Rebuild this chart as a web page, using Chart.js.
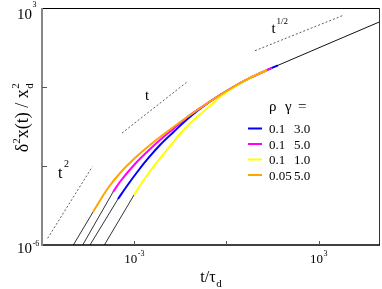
<!DOCTYPE html>
<html><head><meta charset="utf-8">
<script src="https://cdn.jsdelivr.net/npm/chart.js@4/dist/chart.umd.min.js"></script>
<style>html,body{margin:0;padding:0;background:#fff;overflow:hidden}</style>
</head><body>
<canvas id="c" width="382" height="289"></canvas>
<script>
// ---- data (t/tau_d, MSD/x_d^2) ----
const blueT = [2.97e-4,6.30e-4,1.33e-3,2.82e-3,6.92e-3,1.98e-2,5.65e-2,0.294,1.31,5.87,18.1,48.0];
const blueMSD = [5.58e-5,1.98e-4,6.46e-4,1.93e-3,6.27e-3,2.04e-2,6.37e-2,0.281,0.839,2.20,4.06,6.67];
const magentaT = [2.05e-4,3.72e-4,1.06e-3,2.61e-3,6.92e-3,2.13e-2,5.65e-2,0.294,1.31,5.87,18.1,30.5];
const magentaMSD = [1.03e-4,2.81e-4,1.19e-3,3.40e-3,9.70e-3,2.90e-2,7.59e-2,0.281,0.839,2.20,4.06,5.31];
const yellowT = [9.86e-4,1.67e-3,2.82e-3,6.92e-3,1.47e-2,3.10e-2,6.56e-2,0.139,0.341,0.904,5.87,18.1,21.0];
const yellowMSD = [7.92e-5,2.07e-4,4.97e-4,1.93e-3,5.74e-3,1.64e-2,4.11e-2,9.04e-2,0.226,0.577,2.20,4.06,4.38];
const orangeT = [4.57e-5,1.41e-4,3.72e-4,1.06e-3,3.27e-3,1.26e-2,5.65e-2,0.294,1.31,5.87,18.1,21.0];
const orangeMSD = [1.79e-5,1.46e-4,5.92e-4,2.01e-3,6.27e-3,2.13e-2,7.59e-2,0.281,0.839,2.20,4.06,4.38];

// early-time ballistic parts (black)
const blueEarlyT = [3.65e-5,2.97e-4], blueEarlyMSD = [1e-6,5.58e-5];
const magentaEarlyT = [2.11e-5,2.05e-4], magentaEarlyMSD = [1e-6,1.03e-4];
const yellowEarlyT = [1.07e-4,9.86e-4], yellowEarlyMSD = [1e-6,7.92e-5];
const orangeEarlyT = [1.045e-5,4.57e-5], orangeEarlyMSD = [1e-6,1.79e-5];

// long-time master curve (black)
const lateT = [1.26e-2,5.65e-2,0.294,1.31,5.87,18.1,48.0,1e5];
const lateMSD = [2.13e-2,7.59e-2,0.281,0.839,2.20,4.06,6.67,302];

// guide lines
const guideT2T = [1.53e-6,4.34e-5], guideT2V = [1.80e-6,9.40e-4];
const guideT1T = [4.02e-4,5.24e-2], guideT1V = [1.79e-2,1.55];
const guideThalfT = [8.55,6730], guideThalfV = [23.9,542];

// ticks
const xTickValues = [1e-3,1,1e3];
const xTickExp = ['-3','','3'];
const yTickValues = [1e-6,1e-3,1,1e3];
const yTickExp = ['-6','','','3'];

// legend
const legendRho = ['0.1','0.1','0.1','0.05'];
const legendGamma = ['3.0','5.0','1.0','5.0'];
const legendColors = ['#0000ff','#ff00ff','#ffff00','#ffa500'];

const zip = (xs, ys) => xs.map((x,i)=>({x, y: ys[i]}));
const FONT = '"Liberation Serif", "DejaVu Serif", serif';

function curve(xs, ys, color, width, order, dash){
  return {data: zip(xs,ys), borderColor: color, borderWidth: width, showLine: true,
    pointRadius: 0, fill: false, order: order, borderDash: dash || [],
    cubicInterpolationMode: 'monotone'};
}

const datasets = [
  curve(orangeT, orangeMSD, legendColors[3], 2, 1),
  curve(yellowT, yellowMSD, legendColors[2], 2, 2),
  curve(magentaT, magentaMSD, legendColors[1], 2, 3),
  curve(blueT, blueMSD, legendColors[0], 2, 4),
  curve(lateT, lateMSD, '#111', 1, 5),
  curve(orangeEarlyT, orangeEarlyMSD, '#333', 1, 6),
  curve(magentaEarlyT, magentaEarlyMSD, '#333', 1, 6),
  curve(blueEarlyT, blueEarlyMSD, '#333', 1, 6),
  curve(yellowEarlyT, yellowEarlyMSD, '#333', 1, 6),
  curve(guideT2T, guideT2V, '#333', 0.8, 7, [2,2]),
  curve(guideT1T, guideT1V, '#333', 0.8, 7, [2,2]),
  curve(guideThalfT, guideThalfV, '#333', 0.8, 7, [2,2]),
];

function txt(ctx, s, x, y, size, align){
  ctx.font = size + 'px ' + FONT;
  ctx.textAlign = align || 'left';
  ctx.textBaseline = 'alphabetic';
  ctx.fillText(s, x, y);
  return ctx.measureText(s).width;
}

const decor = {
  id: 'decor',
  afterDraw(chart){
    const ctx = chart.ctx, a = chart.chartArea;
    const xs = chart.scales.x, ys = chart.scales.y;
    ctx.save();
    // frame
    ctx.lineWidth = 1; ctx.strokeStyle = '#000';
    ctx.beginPath(); ctx.moveTo(a.left, a.top+0.5); ctx.lineTo(a.right, a.top+0.5); ctx.stroke();
    ctx.strokeStyle = '#333';
    ctx.beginPath(); ctx.moveTo(a.right-0.5, a.top); ctx.lineTo(a.right-0.5, a.bottom); ctx.stroke();
    ctx.lineWidth = 1.5; ctx.strokeStyle = '#000';
    ctx.beginPath(); ctx.moveTo(a.left, a.bottom); ctx.lineTo(a.right, a.bottom); ctx.stroke();
    ctx.lineWidth = 2; ctx.strokeStyle = '#888';
    ctx.beginPath(); ctx.moveTo(a.left, a.top); ctx.lineTo(a.left, a.bottom+1); ctx.stroke();
    // ticks
    ctx.lineWidth = 1; ctx.strokeStyle = '#555';
    xTickValues.forEach(v=>{
      const px = Math.round(xs.getPixelForValue(v))+0.5;
      ctx.beginPath(); ctx.moveTo(px, a.bottom); ctx.lineTo(px, a.bottom-4); ctx.stroke();
    });
    yTickValues.forEach(v=>{
      const py = Math.round(ys.getPixelForValue(v))+0.5;
      if (py > a.top+2 && py < a.bottom-2){
        ctx.beginPath(); ctx.moveTo(a.left, py); ctx.lineTo(a.left+5, py); ctx.stroke();
      }
    });
    ctx.fillStyle = '#000';
    // x tick labels
    xTickValues.forEach((v,i)=>{
      if (!xTickExp[i]) return;
      const px = xs.getPixelForValue(v);
      ctx.font = '13px ' + FONT;
      const w1 = ctx.measureText('10').width;
      ctx.font = '8px ' + FONT;
      const w2 = ctx.measureText(xTickExp[i]).width;
      const x0 = px - (w1+w2)/2;
      txt(ctx, '10', x0, a.bottom+18, 13);
      txt(ctx, xTickExp[i], x0+w1+0.5, a.bottom+11, 8);
    });
    // y tick labels
    yTickValues.forEach((v,i)=>{
      if (!yTickExp[i]) return;
      const py = ys.getPixelForValue(v);
      const top = py < a.top + 2;
      const base = top ? py + 10.5 : py + 8;
      const supBase = top ? py - 1 : py + 0.5;
      txt(ctx, '10', 32, base, 15, 'right');
      txt(ctx, yTickExp[i], 32.5, supBase, 8);
    });
    // x title
    const xc = (a.left + a.right)/2 - 3;
    ctx.font = '16px ' + FONT;
    const wt = ctx.measureText('t/\u03c4').width;
    txt(ctx, 't/\u03c4', xc - wt/2, a.bottom + 37, 16);
    txt(ctx, 'd', xc + wt/2 + 0.5, a.bottom + 42, 11);
    // y title rotated
    ctx.save();
    ctx.translate(28, 118);
    ctx.rotate(-Math.PI/2);
    const parts = [['\u03b4',18,0],['2',11,-8],['x(t) / x',18,0]];
    let total = 0;
    parts.forEach(p=>{ ctx.font = p[1]+'px '+FONT; total += ctx.measureText(p[0]).width; });
    ctx.font = '11px ' + FONT; total += ctx.measureText('2').width;
    let cx = -total/2;
    parts.forEach(p=>{ cx += txt(ctx, p[0], cx, p[2], p[1]); });
    txt(ctx, 'd', cx + 0.5, 5, 11);
    txt(ctx, '2', cx + 0.5, -9, 11);
    ctx.restore();
    // guide labels
    txt(ctx, 't', 58, 178, 16);
    txt(ctx, '2', 64, 167, 10);
    txt(ctx, 't', 145, 100, 15);
    txt(ctx, 't', 271.5, 33, 15);
    txt(ctx, '1/2', 276.5, 24, 9);
    // legend
    txt(ctx, '\u03c1', 269, 111, 15);
    txt(ctx, '\u03b3', 285, 111, 15);
    txt(ctx, '=', 298, 111, 15);
    const rowY = [128.5, 144, 159.5, 175];
    legendColors.forEach((c,i)=>{
      ctx.strokeStyle = c; ctx.lineWidth = 2;
      ctx.beginPath(); ctx.moveTo(248, rowY[i]); ctx.lineTo(262, rowY[i]); ctx.stroke();
      ctx.fillStyle = '#000';
      txt(ctx, legendRho[i], 269, rowY[i]+4.5, 13);
      txt(ctx, legendGamma[i], 294, rowY[i]+4.5, 13);
    });
    ctx.restore();
  }
};

function build(){
  new Chart(document.getElementById('c'), {
    type: 'scatter',
    data: { datasets },
    options: {
      responsive: false, animation: false, devicePixelRatio: 1,
      layout: { padding: { top: 8, right: 2, left: 0, bottom: 0 } },
      plugins: { legend: { display: false }, tooltip: { enabled: false } },
      scales: {
        x: { type: 'logarithmic', min: 1e-6, max: 1e5,
             ticks: { display: false }, grid: { display: false }, border: { display: false },
             afterFit: s => { s.height = 44; } },
        y: { type: 'logarithmic', min: 1e-6, max: 1e3,
             ticks: { display: false }, grid: { display: false }, border: { display: false },
             afterFit: s => { s.width = 42; } }
      }
    },
    plugins: [decor]
  });
}
document.fonts.load('14px "Liberation Serif"').then(build, build);
</script>
</body></html>
